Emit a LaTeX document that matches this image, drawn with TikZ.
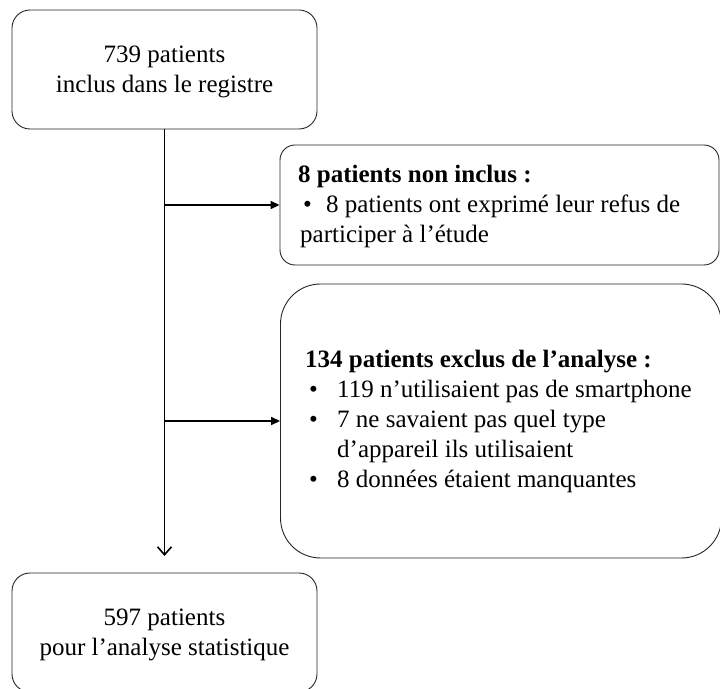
\documentclass[tikz,border=0pt]{standalone}
\usepackage{fontspec}
\setmainfont{Liberation Serif}
\usetikzlibrary{arrows.meta}
\begin{document}
\begin{tikzpicture}[x=1pt,y=1pt,
  box/.style={draw=black!85, line width=0.9pt, fill=white, inner sep=0pt},
  txt/.style={inner sep=0pt, font=\fontsize{25}{30}\selectfont, text=black},
  conn/.style={draw=black, line width=1.6pt},
  harrow/.style={conn, -{Triangle[length=9pt,width=8pt]}},
  varrow/.style={conn, -{Straight Barb[length=8pt,width=14pt,line width=1.6pt]}}
]
\useasboundingbox (0,0) rectangle (720,688);
% boxes
\node[box, rounded corners=18pt, minimum width=305pt, minimum height=119pt] (b1) at (164.5,618.5) {};
\node[box, rounded corners=15pt, minimum width=439pt, minimum height=120pt] (b2) at (499.5,483) {};
\node[box, rounded corners=40pt, minimum width=441pt, minimum height=274pt] (b3) at (501,267) {};
\node[box, rounded corners=18pt, minimum width=305pt, minimum height=119pt] (b4) at (164.5,55.5) {};
% texts
\node[txt, anchor=base] (t1) at (164.5,625)
  {\begin{tabular}[t]{@{}c@{}}739 patients\\inclus dans le registre\end{tabular}};
\node[txt, anchor=base] (t4) at (164.5,63)
  {\begin{tabular}[t]{@{}c@{}}597 patients\\pour l’analyse statistique\end{tabular}};
\node[txt, anchor=base west] (t2) at (298,505)
  {\begin{tabular}[t]{@{}l@{}}
   \textbf{8 patients non inclus :}\\
   \hspace*{5pt}\makebox[23pt][l]{•}8 patients ont exprimé leur refus de\\
   \hspace*{2pt}participer à l’étude
   \end{tabular}};
\node[txt, anchor=base west] (t3) at (305,320)
  {\begin{tabular}[t]{@{}l@{}}
   \textbf{134 patients exclus de l’analyse :}\\
   \hspace*{4pt}\makebox[28pt][l]{•}119 n’utilisaient pas de smartphone\\
   \hspace*{4pt}\makebox[28pt][l]{•}7 ne savaient pas quel type\\
   \hspace*{32pt}d’appareil ils utilisaient\\
   \hspace*{4pt}\makebox[28pt][l]{•}8 données étaient manquantes
   \end{tabular}};
% connectors
\coordinate (tip) at (164.5,132);
\coordinate (j1) at (b1.south |- b2.west);
\coordinate (j2) at (b1.south |- b3.west);
\draw[varrow] (b1.south) -- (tip);
\draw[harrow] (j1) -- (b2.west);
\draw[harrow] (j2) -- (b3.west);
\end{tikzpicture}
\end{document}
